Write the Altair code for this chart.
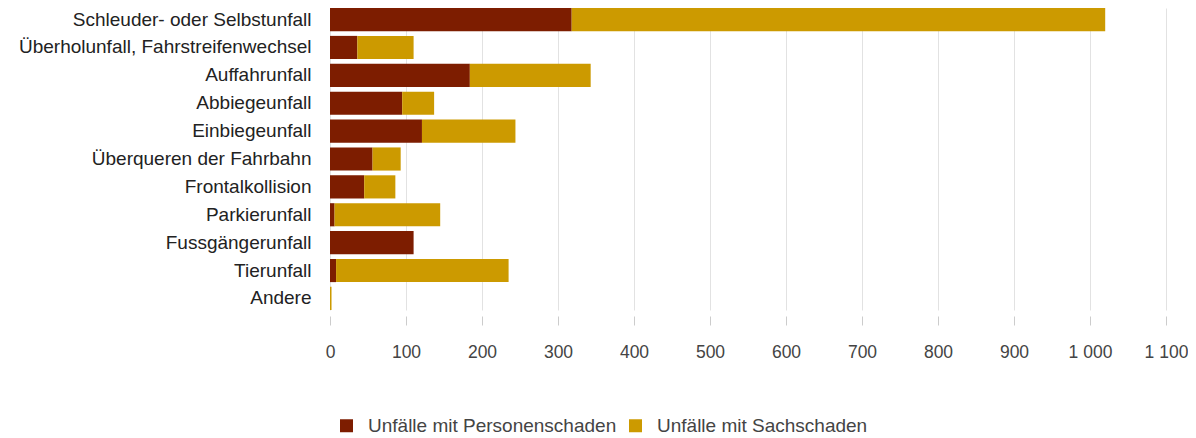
import altair as alt
import pandas as pd

categories = [
    "Schleuder- oder Selbstunfall",
    "Überholunfall, Fahrstreifenwechsel",
    "Auffahrunfall",
    "Abbiegeunfall",
    "Einbiegeunfall",
    "Überqueren der Fahrbahn",
    "Frontalkollision",
    "Parkierunfall",
    "Fussgängerunfall",
    "Tierunfall",
    "Andere",
]
personen = [318, 36, 184, 95, 121, 56, 45, 6, 110, 8, 0]
sach = [702, 74, 159, 42, 123, 37, 41, 139, 0, 227, 2]
series = ["Unfälle mit Personenschaden", "Unfälle mit Sachschaden"]
colors = ["#7d1d00", "#cc9a00"]
x_ticks = list(range(0, 1101, 100))

rows = []
for c, p, s in zip(categories, personen, sach):
    rows.append({"category": c, "series": series[0], "value": p, "order": 0})
    rows.append({"category": c, "series": series[1], "value": s, "order": 1})
df = pd.DataFrame(rows)

FONT = "Liberation Sans"

chart = alt.Chart(df).mark_bar().encode(
    y=alt.Y(
        "category:N",
        sort=categories,
        scale=alt.Scale(paddingInner=0.17, paddingOuter=0),
        axis=alt.Axis(
            title=None, ticks=False, tickSize=0, domain=False,
            labelFont=FONT, labelFontSize=19, labelColor="#222222",
            labelPadding=19, labelLimit=400,
        ),
    ),
    x=alt.X(
        "value:Q",
        stack="zero",
        scale=alt.Scale(domain=[0, 1100], nice=False),
        axis=alt.Axis(
            title=None, values=x_ticks, domain=False,
            tickColor="#cccccc", tickSize=9, offset=6,
            gridColor="#e2e2e2", gridWidth=1,
            labelFont=FONT, labelFontSize=17.5, labelColor="#444444",
            labelPadding=18, labelFlush=False, labelOverlap=False,
            labelExpr="replace(format(datum.value, ','), ',', ' ')",
        ),
    ),
    color=alt.Color(
        "series:N",
        scale=alt.Scale(domain=series, range=colors),
        legend=alt.Legend(
            orient="none", legendX=7, legendY=408, direction="horizontal",
            title=None, symbolType="square", symbolSize=169,
            symbolStrokeWidth=0, symbolOpacity=1,
            labelFont=FONT, labelFontSize=19, labelColor="#444444",
            columnPadding=9, labelOffset=12, padding=0, labelLimit=400,
        ),
    ),
    order=alt.Order("order:Q"),
).properties(
    width=836,
    height=302,
    padding={"left": 322, "top": 0, "right": 22, "bottom": 128},
    autosize=alt.AutoSizeParams(type="none"),
).configure_view(stroke=None)

chart.save("out.html", embed_options={"renderer": "svg", "actions": False})
